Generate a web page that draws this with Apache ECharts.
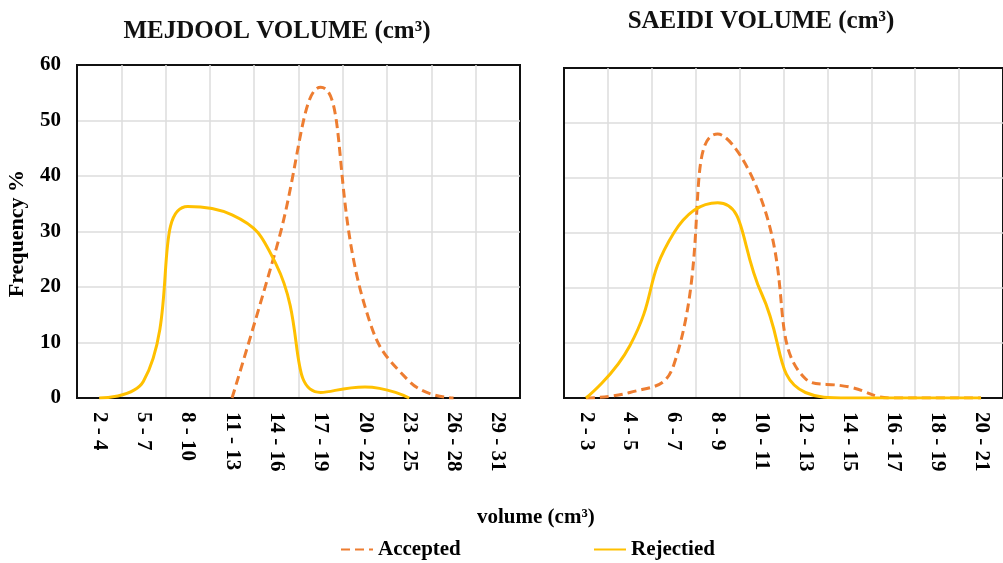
<!DOCTYPE html>
<html>
<head>
<meta charset="utf-8">
<script src="https://cdn.jsdelivr.net/npm/echarts@6/dist/echarts.min.js"></script>
<style>
html,body{margin:0;padding:0;background:#fff;}
#chart{width:1003px;height:563px;}
</style>
</head>
<body>
<div id="chart"></div>
<script>
// Categories (volume classes, cm³)
var mejdoolCategories = ['2 - 4','5 - 7','8 - 10','11 - 13','14 - 16','17 - 19','20 - 22','23 - 25','26 - 28','29 - 31'];
var saeidiCategories  = ['2 - 3','4 - 5','6 - 7','8 - 9','10 - 11','12 - 13','14 - 15','16 - 17','18 - 19','20 - 21'];

// Frequency % values
var mejdoolAccepted = [null, null, null, 0, 27, 56, 16.5, 3, 0, null];
var mejdoolRejected = [0, 3, 34.5, 33, 24, 1, 2, 0, null, null];
var saeidiAccepted  = [0, 1, 6, 48, 36, 3.5, 2, 0, 0, 0];
var saeidiRejected  = [0, 9.5, 30, 35.5, 19, 1, 0, 0, 0, 0];

// Y axis ticks
var yMin = 0, yMax = 60, yStep = 10;

var FONT = "'Liberation Serif','Times New Roman',serif";
var ORANGE = '#ED7D31', YELLOW = '#FFC000', GRIDC = '#dcdcdc', FRAME = '#111';

function xAxisFor(cats, idx) {
  return {
    type: 'category', gridIndex: idx, data: cats, boundaryGap: true,
    axisLine: {show: true, onZero: false, lineStyle: {color: FRAME, width: 2}}, axisTick: {show: false},
    splitLine: {show: true, showMinLine: false, showMaxLine: false, lineStyle: {color: GRIDC, width: 1.5}},
    axisLabel: {rotate: -90, margin: 14, color: '#000', fontFamily: FONT, fontWeight: 'bold', fontSize: 21, interval: 0}
  };
}
function yAxisFor(idx, showLabels) {
  return {
    type: 'value', gridIndex: idx, min: yMin, max: yMax, interval: yStep,
    axisLine: {show: true, lineStyle: {color: FRAME, width: 2}}, axisTick: {show: false},
    splitLine: {show: true, showMinLine: false, showMaxLine: false, lineStyle: {color: GRIDC, width: 1.5}},
    axisLabel: {show: showLabels, margin: 16, color: '#000', fontFamily: FONT, fontWeight: 'bold', fontSize: 21}
  };
}
function lineSeries(name, data, idx, color, dashed) {
  return {
    name: name, type: 'line', xAxisIndex: idx, yAxisIndex: idx, data: data,
    smooth: 0.5, symbol: 'none', connectNulls: false,
    lineStyle: {color: color, width: 3, type: dashed ? [9, 5] : 'solid'},
    itemStyle: {color: color},
    z: dashed ? 3 : 4
  };
}
var legendCommon = {
  itemWidth: 32, itemHeight: 14, itemGap: 4, padding: 0,
  itemStyle: {color: 'transparent', borderColor: 'transparent', borderWidth: 0},
  textStyle: {fontFamily: FONT, fontWeight: 'bold', fontSize: 21, color: '#000', padding: [0, 0, 0, 0]}
};

var chart = echarts.init(document.getElementById('chart'), null, {renderer: 'canvas'});
chart.setOption({
  backgroundColor: '#fff',
  animation: false,
  title: [
    {text: 'MEJDOOL VOLUME (cm³)', left: 272, top: 14, textAlign: 'center',
     textStyle: {fontFamily: FONT, fontWeight: 'bold', fontSize: 25, color: '#111'}},
    {text: 'SAEIDI VOLUME (cm³)', left: 756, top: 4, textAlign: 'center',
     textStyle: {fontFamily: FONT, fontWeight: 'bold', fontSize: 25, color: '#111'}}
  ],
  grid: [
    {left: 77, top: 65, width: 443, height: 333, show: true, borderColor: FRAME, borderWidth: 2, backgroundColor: 'transparent', containLabel: false},
    {left: 564, top: 68, width: 443, height: 330, show: true, borderColor: FRAME, borderWidth: 2, backgroundColor: 'transparent', containLabel: false}
  ],
  xAxis: [xAxisFor(mejdoolCategories, 0), xAxisFor(saeidiCategories, 1)],
  yAxis: [yAxisFor(0, true), yAxisFor(1, false)],
  legend: [
    Object.assign({data: ['Accepted'], left: 340, top: 539}, legendCommon),
    Object.assign({data: ['Rejectied'], left: 593, top: 539}, legendCommon)
  ],
  graphic: [
    {type: 'text', left: 6, top: 170, rotation: Math.PI / 2,
     style: {text: 'Frequency %', fontFamily: FONT, fontWeight: 'bold', fontSize: 22, fill: '#000'}},
    {type: 'text', left: 477, top: 507,
     style: {text: 'volume (cm³)', fontFamily: FONT, fontWeight: 'bold', fontSize: 21, fill: '#000'}}
  ],
  series: [
    lineSeries('Accepted', mejdoolAccepted, 0, ORANGE, true),
    lineSeries('Rejectied', mejdoolRejected, 0, YELLOW, false),
    lineSeries('Accepted', saeidiAccepted, 1, ORANGE, true),
    lineSeries('Rejectied', saeidiRejected, 1, YELLOW, false)
  ]
});
</script>
</body>
</html>
